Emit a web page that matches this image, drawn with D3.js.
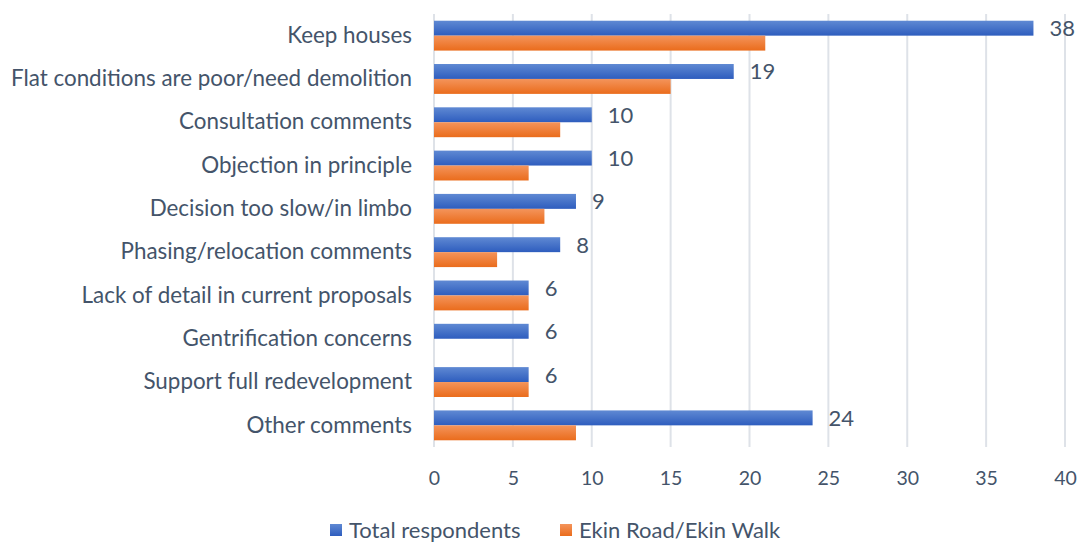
<!DOCTYPE html>
<html>
<head>
<meta charset="utf-8">
<script src="https://cdn.jsdelivr.net/npm/d3@7"></script>
<style>
  body { margin: 0; background: #fff; }
  text { font-family: Lato, "Open Sans", sans-serif; fill: #44546A; }
</style>
</head>
<body>
<div id="chart"></div>
<script>
const categories = [
  'Keep houses',
  'Flat conditions are poor/need demolition',
  'Consultation comments',
  'Objection in principle',
  'Decision too slow/in limbo',
  'Phasing/relocation comments',
  'Lack of detail in current proposals',
  'Gentrification concerns',
  'Support full redevelopment ',
  'Other comments',
];
const totalRespondents = [38, 19, 10, 10, 9, 8, 6, 6, 6, 24];
const ekinRoad = [21, 15, 8, 6, 7, 4, 6, 0, 6, 9];
const seriesNames = ['Total respondents', 'Ekin Road/Ekin Walk'];
const xTicks = [0, 5, 10, 15, 20, 25, 30, 35, 40];

const W = 1081;
const H = 542;
const margin = { top: 14, right: 16, bottom: 95, left: 434 };
const width = W - margin.left - margin.right;
const height = H - margin.top - margin.bottom;

const svg = d3.select('#chart').append('svg')
  .attr('width', W)
  .attr('height', H);

const defs = svg.append('defs');
const grads = [
  { id: 'gBlue', top: '#5F89D3', bottom: '#2E5DBE' },
  { id: 'gOrange', top: '#F4945B', bottom: '#EA6C1C' },
];
grads.forEach((gr) => {
  const lg = defs.append('linearGradient')
    .attr('id', gr.id)
    .attr('x1', 0).attr('y1', 0).attr('x2', 0).attr('y2', 1);
  lg.append('stop').attr('offset', '0%').attr('stop-color', gr.top);
  lg.append('stop').attr('offset', '100%').attr('stop-color', gr.bottom);
});

const g = svg.append('g')
  .attr('transform', `translate(${margin.left},${margin.top})`);

const x = d3.scaleLinear().domain([0, 40]).range([0, width]);
const y = d3.scaleBand().domain(categories).range([0, height]).paddingInner(0.31).paddingOuter(0.155);
const ySub = d3.scaleBand().domain([0, 1]).range([0, y.bandwidth()]);

// gridlines
g.selectAll('.grid')
  .data(xTicks)
  .enter().append('line')
  .attr('x1', d => x(d))
  .attr('x2', d => x(d))
  .attr('y1', 0)
  .attr('y2', height)
  .attr('stroke', '#DEE2E8')
  .attr('stroke-width', 2);

// x axis
const xAxis = d3.axisBottom(x).tickValues(xTicks).tickSize(0).tickPadding(24);
const xg = g.append('g')
  .attr('transform', `translate(0,${height})`)
  .call(xAxis);
xg.select('.domain').remove();
xg.selectAll('text').style('font-size', '19.5px').attr('fill', '#44546A');

// y axis labels
const yAxis = d3.axisLeft(y).tickSize(0).tickPadding(22);
const yg = g.append('g').call(yAxis);
yg.select('.domain').remove();
yg.selectAll('text').style('font-size', '22.4px').attr('fill', '#44546A');

const rows = categories.map((c, i) => ({ c, vals: [totalRespondents[i], ekinRoad[i]] }));
const fills = ['url(#gBlue)', 'url(#gOrange)'];

const row = g.selectAll('.row')
  .data(rows)
  .enter().append('g')
  .attr('transform', d => `translate(0,${y(d.c)})`);

row.selectAll('rect')
  .data(d => d.vals.map((v, k) => ({ v, k })))
  .enter().append('rect')
  .attr('x', x(0))
  .attr('y', d => ySub(d.k))
  .attr('width', d => x(d.v) - x(0))
  .attr('height', ySub.bandwidth())
  .attr('fill', d => fills[d.k]);

// value labels for total series
row.append('text')
  .attr('x', d => x(d.vals[0]) + 16)
  .attr('y', ySub(0) + ySub.bandwidth() / 2)
  .attr('dy', '0.36em')
  .style('font-size', '22px')
  .text(d => d.vals[0]);

// legend
const legend = svg.append('g').attr('transform', 'translate(330,530)');
const legendX = [0, 230];
seriesNames.forEach((name, i) => {
  const lg = legend.append('g').attr('transform', `translate(${legendX[i]},0)`);
  lg.append('rect')
    .attr('x', 0).attr('y', -6)
    .attr('width', 12).attr('height', 12)
    .attr('fill', fills[i]);
  lg.append('text')
    .attr('x', 19)
    .attr('y', 0)
    .attr('dy', '0.36em')
    .style('font-size', '22px')
    .text(name);
});
</script>
</body>
</html>
